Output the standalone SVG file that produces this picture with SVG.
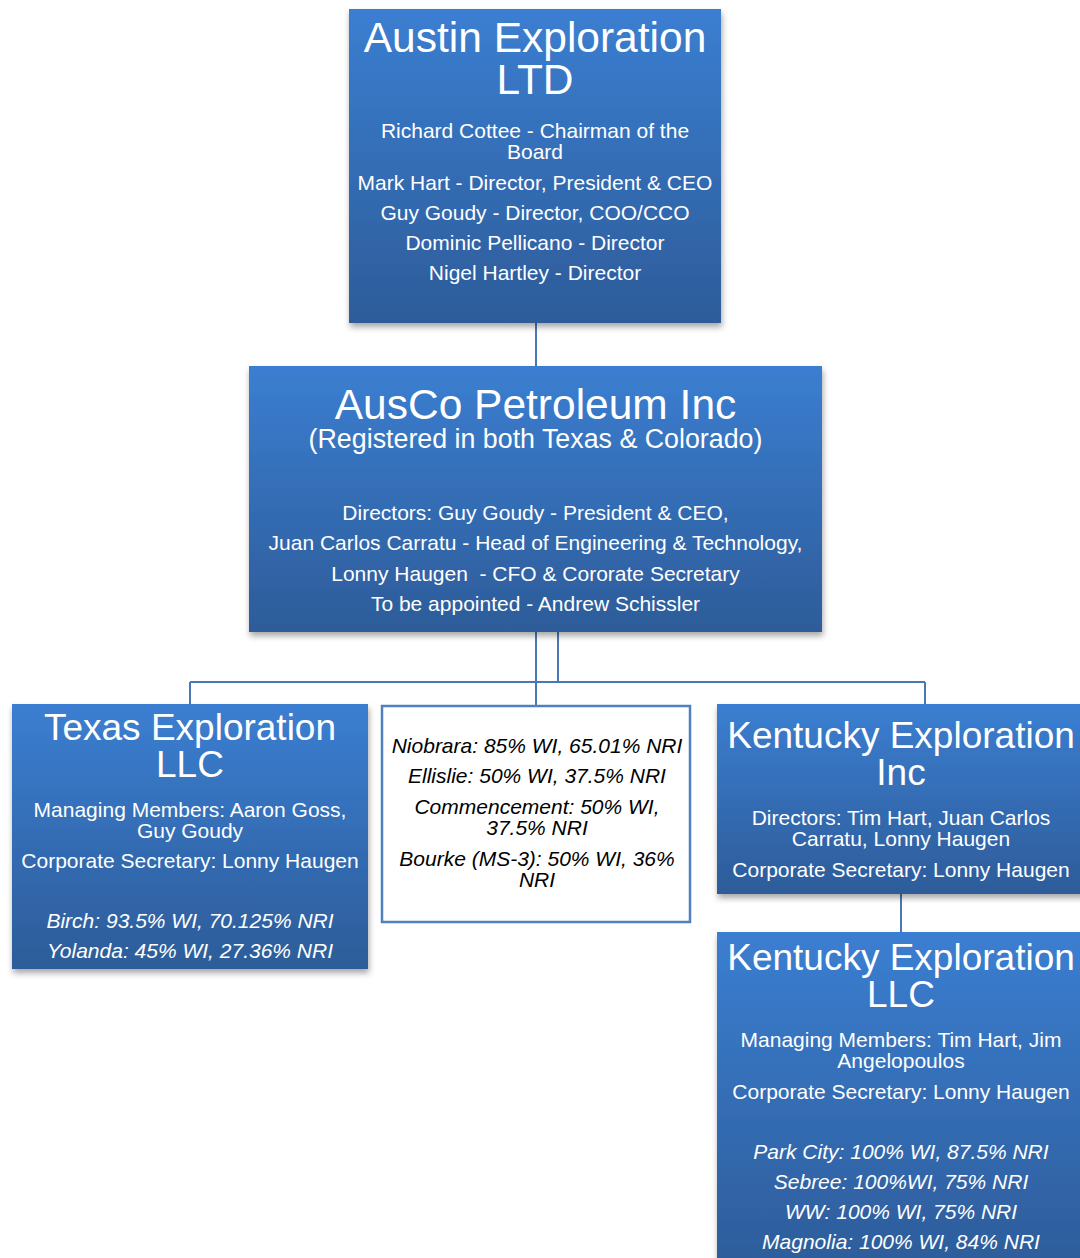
<svg xmlns="http://www.w3.org/2000/svg" width="1080" height="1258" viewBox="0 0 1080 1258">
<defs>
<linearGradient id="blue" x1="0" y1="0" x2="0" y2="1">
<stop offset="0" stop-color="#3b7ed1"/>
<stop offset="1" stop-color="#2d5c99"/>
</linearGradient>
<filter id="sh" x="-10%" y="-10%" width="120%" height="125%">
<feDropShadow dx="1" dy="4" stdDeviation="3" flood-color="#000" flood-opacity="0.35"/>
</filter>
<style>
.box{fill:url(#blue);filter:url(#sh)}
.wbox{fill:#fff;stroke:#4f81bd;stroke-width:2.5}
.t{font-family:"Liberation Sans",Arial,sans-serif;fill:#fff;text-anchor:middle}
.big{font-size:42.5px}
.mid{font-size:37px}
.sub{font-size:26.8px}
.s{font-size:21px}
.i{font-style:italic}
.k{fill:#000}
.c{fill:none;stroke:#4a78b5;stroke-width:2}
</style>
</defs>
<g id="connectors">
<line class="c" x1="536" y1="323" x2="536" y2="366" stroke="#35649f"/>
<path class="c" d="M536 632 V682 M558 632 V682 M190 682 H925 M190 682 V704 M536 682 V706 M925 682 V704 M901 894 V932"/>
</g>
<g id="austin">
<rect class="box" x="349" y="9" width="372" height="314"/>
<text class="t big" x="535" y="52">Austin Exploration</text>
<text class="t big" x="535" y="94">LTD</text>
<text class="t s" x="535" y="138">Richard Cottee - Chairman of the</text>
<text class="t s" x="535" y="159">Board</text>
<text class="t s" x="535" y="190">Mark Hart - Director, President &amp; CEO</text>
<text class="t s" x="535" y="220">Guy Goudy - Director, COO/CCO</text>
<text class="t s" x="535" y="250">Dominic Pellicano - Director</text>
<text class="t s" x="535" y="280">Nigel Hartley - Director</text>
</g>
<g id="ausco">
<rect class="box" x="249" y="366" width="573" height="266"/>
<text class="t big" x="535.5" y="419">AusCo Petroleum Inc</text>
<text class="t sub" x="535.5" y="448">(Registered in both Texas &amp; Colorado)</text>
<text class="t s" x="535.5" y="520">Directors: Guy Goudy - President &amp; CEO,</text>
<text class="t s" x="535.5" y="550">Juan Carlos Carratu - Head of Engineering &amp; Technology,</text>
<text class="t s" x="535.5" y="581" xml:space="preserve">Lonny Haugen  - CFO &amp; Cororate Secretary</text>
<text class="t s" x="535.5" y="611">To be appointed - Andrew Schissler</text>
</g>
<g id="texas">
<rect class="box" x="12" y="704" width="356" height="265"/>
<text class="t mid" x="190" y="740">Texas Exploration</text>
<text class="t mid" x="190" y="777">LLC</text>
<text class="t s" x="190" y="817">Managing Members: Aaron Goss,</text>
<text class="t s" x="190" y="838">Guy Goudy</text>
<text class="t s" x="190" y="868">Corporate Secretary: Lonny Haugen</text>
<text class="t s i" x="190" y="928">Birch: 93.5% WI, 70.125% NRI</text>
<text class="t s i" x="190" y="958">Yolanda: 45% WI, 27.36% NRI</text>
</g>
<g id="assets">
<rect class="wbox" x="382" y="706" width="308" height="216"/>
<text class="t s i k" x="537" y="753">Niobrara: 85% WI, 65.01% NRI</text>
<text class="t s i k" x="537" y="783">Ellislie: 50% WI, 37.5% NRI</text>
<text class="t s i k" x="537" y="814">Commencement: 50% WI,</text>
<text class="t s i k" x="537" y="835">37.5% NRI</text>
<text class="t s i k" x="537" y="866">Bourke (MS-3): 50% WI, 36%</text>
<text class="t s i k" x="537" y="887">NRI</text>
</g>
<g id="kentucky-inc">
<rect class="box" x="717" y="704" width="370" height="190"/>
<text class="t mid" x="901" y="748">Kentucky Exploration</text>
<text class="t mid" x="901" y="785">Inc</text>
<text class="t s" x="901" y="825">Directors: Tim Hart, Juan Carlos</text>
<text class="t s" x="901" y="846">Carratu, Lonny Haugen</text>
<text class="t s" x="901" y="877">Corporate Secretary: Lonny Haugen</text>
</g>
<g id="kentucky-llc">
<rect class="box" x="717" y="932" width="370" height="340"/>
<text class="t mid" x="901" y="970">Kentucky Exploration</text>
<text class="t mid" x="901" y="1007">LLC</text>
<text class="t s" x="901" y="1047">Managing Members: Tim Hart, Jim</text>
<text class="t s" x="901" y="1068">Angelopoulos</text>
<text class="t s" x="901" y="1099">Corporate Secretary: Lonny Haugen</text>
<text class="t s i" x="901" y="1159">Park City: 100% WI, 87.5% NRI</text>
<text class="t s i" x="901" y="1189">Sebree: 100%WI, 75% NRI</text>
<text class="t s i" x="901" y="1219">WW: 100% WI, 75% NRI</text>
<text class="t s i" x="901" y="1249">Magnolia: 100% WI, 84% NRI</text>
</g>
</svg>
